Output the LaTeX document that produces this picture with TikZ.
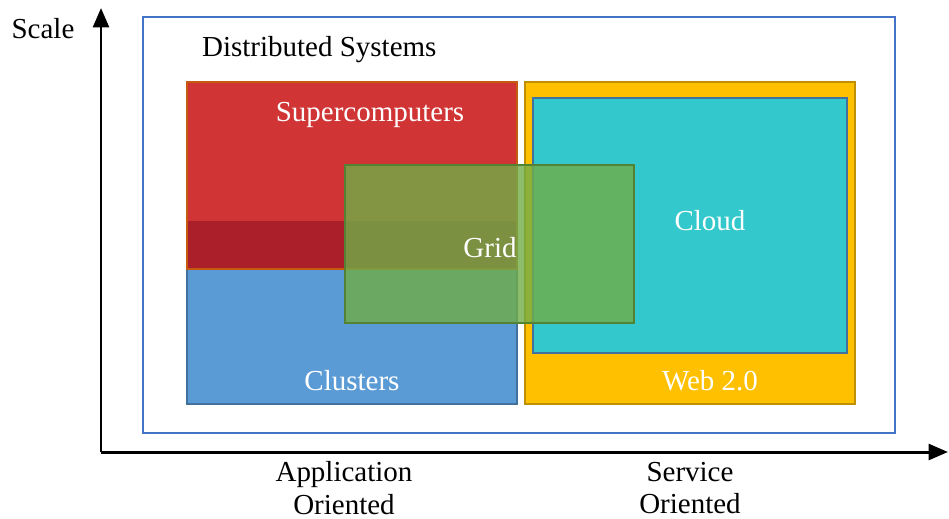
\documentclass[tikz,border=0pt]{standalone}
\usepackage{fontspec}
\setmainfont{Liberation Serif}
\usetikzlibrary{arrows.meta}
\definecolor{frameblue}{RGB}{68,114,196}
\definecolor{superred}{RGB}{208,52,52}
\definecolor{superedge}{RGB}{197,90,17}
\definecolor{darkred}{RGB}{171,31,43}
\definecolor{clusterblue}{RGB}{91,155,213}
\definecolor{clusteredge}{RGB}{65,113,156}
\definecolor{webyellow}{RGB}{255,192,0}
\definecolor{webedge}{RGB}{191,144,0}
\definecolor{cloudcyan}{RGB}{51,200,204}
\definecolor{gridgreen}{RGB}{112,173,71}
\definecolor{gridedge}{RGB}{84,130,53}
\tikzset{
  lbl/.style={text=white, font=\fontsize{16.5}{19}\selectfont},
  axlbl/.style={font=\fontsize{16.5}{18.5}\selectfont, align=center, inner sep=1pt}
}
\begin{document}
\begin{tikzpicture}[x=0.02cm, y=-0.02cm]
    \useasboundingbox (0,0) rectangle (949,518);
    % axes
    \coordinate (o) at (101,452);
    \coordinate (ytip) at (101,8);
    \coordinate (xtip) at (948,452);
    \draw [-{Triangle[length=11pt,width=9pt]}, line width=1.7pt] (o) -- (ytip);
    \draw [-{Triangle[length=11pt,width=9pt]}, line width=1.7pt] (o) -- (xtip);
    \node [axlbl] (scale) at (43,29) {Scale};
    \node [axlbl] (app) at (344,488) {Application\\Oriented};
    \node [axlbl] (serv) at (690,488) {Service\\Oriented};
    % outer box
    \draw [frameblue, line width=1.6pt] (143,17) rectangle (895,433);
    \node [axlbl, anchor=west] (dist) at (200,50) {Distributed Systems};
    % boxes
    \draw [fill=webyellow, draw=webedge, line width=1.2pt] (525,82) rectangle (855,404);
    \draw [fill=cloudcyan, draw=clusteredge, line width=1.2pt] (533,98) rectangle (847,353);
    \draw [fill=clusterblue, draw=clusteredge, line width=1.2pt] (187,221) rectangle (517,404);
    \draw [fill=superred, draw=superedge, line width=1.2pt] (187,82) rectangle (517,269);
    \fill [darkred] (188,221) rectangle (516,268);
    \draw [fill=gridgreen, fill opacity=0.8, draw=gridedge, line width=1.4pt] (345,165) rectangle (634,323);
    % labels
    \node [lbl] (super) at (370,115) {Supercomputers};
    \node [lbl] (cloud) at (710,221) {Cloud};
    \node [lbl] (grid) at (490,248) {Grid};
    \node [lbl] (clusters) at (352,381) {Clusters};
    \node [lbl] (web) at (710,381) {Web 2.0};
\end{tikzpicture}
\end{document}
